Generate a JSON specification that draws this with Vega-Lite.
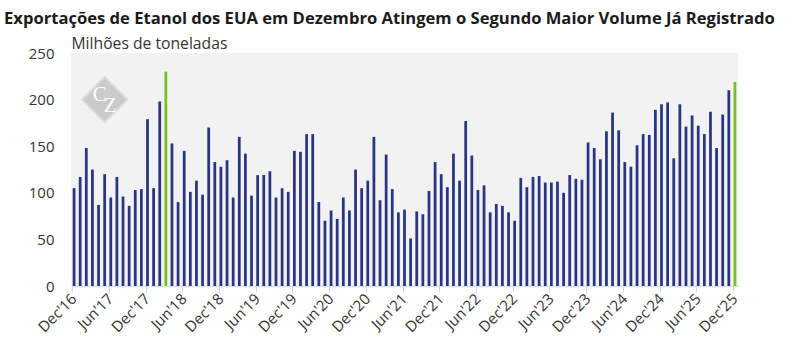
{
  "$schema": "https://vega.github.io/schema/vega-lite/v6.json",
  "width": 667,
  "height": 233,
  "autosize": "none",
  "padding": {"left": 71, "top": 53, "right": 54, "bottom": 78},
  "background": "white",
  "config": {
    "font": "Open Sans",
    "view": {"fill": "#f2f2f2", "stroke": null}
  },
  "title": {
    "text": "Exportações de Etanol dos EUA em Dezembro Atingem o Segundo Maior Volume Já Registrado",
    "anchor": "start",
    "frame": "group",
    "dx": -67,
    "fontSize": 16.6,
    "fontWeight": "bold",
    "color": "#1a1a1a",
    "font": "Open Sans",
    "offset": 7
  },
  "datasets": {
    "exports": [
      {"month": "Dec'16", "value": 105},
      {"month": "Jan'17", "value": 117},
      {"month": "Feb'17", "value": 148},
      {"month": "Mar'17", "value": 125},
      {"month": "Apr'17", "value": 87},
      {"month": "May'17", "value": 120},
      {"month": "Jun'17", "value": 95},
      {"month": "Jul'17", "value": 117},
      {"month": "Aug'17", "value": 96},
      {"month": "Sep'17", "value": 86},
      {"month": "Oct'17", "value": 103},
      {"month": "Nov'17", "value": 104},
      {"month": "Dec'17", "value": 179},
      {"month": "Jan'18", "value": 105},
      {"month": "Feb'18", "value": 198},
      {"month": "Mar'18", "value": 230},
      {"month": "Apr'18", "value": 153},
      {"month": "May'18", "value": 90},
      {"month": "Jun'18", "value": 145},
      {"month": "Jul'18", "value": 101},
      {"month": "Aug'18", "value": 113},
      {"month": "Sep'18", "value": 98},
      {"month": "Oct'18", "value": 170},
      {"month": "Nov'18", "value": 133},
      {"month": "Dec'18", "value": 128},
      {"month": "Jan'19", "value": 135},
      {"month": "Feb'19", "value": 95},
      {"month": "Mar'19", "value": 160},
      {"month": "Apr'19", "value": 142},
      {"month": "May'19", "value": 97},
      {"month": "Jun'19", "value": 119},
      {"month": "Jul'19", "value": 119},
      {"month": "Aug'19", "value": 123},
      {"month": "Sep'19", "value": 95},
      {"month": "Oct'19", "value": 105},
      {"month": "Nov'19", "value": 101},
      {"month": "Dec'19", "value": 145},
      {"month": "Jan'20", "value": 144},
      {"month": "Feb'20", "value": 163},
      {"month": "Mar'20", "value": 163},
      {"month": "Apr'20", "value": 90},
      {"month": "May'20", "value": 70},
      {"month": "Jun'20", "value": 81},
      {"month": "Jul'20", "value": 72},
      {"month": "Aug'20", "value": 95},
      {"month": "Sep'20", "value": 81},
      {"month": "Oct'20", "value": 125},
      {"month": "Nov'20", "value": 105},
      {"month": "Dec'20", "value": 113},
      {"month": "Jan'21", "value": 160},
      {"month": "Feb'21", "value": 92},
      {"month": "Mar'21", "value": 141},
      {"month": "Apr'21", "value": 104},
      {"month": "May'21", "value": 79},
      {"month": "Jun'21", "value": 82},
      {"month": "Jul'21", "value": 51},
      {"month": "Aug'21", "value": 80},
      {"month": "Sep'21", "value": 77},
      {"month": "Oct'21", "value": 102},
      {"month": "Nov'21", "value": 133},
      {"month": "Dec'21", "value": 120},
      {"month": "Jan'22", "value": 106},
      {"month": "Feb'22", "value": 142},
      {"month": "Mar'22", "value": 113},
      {"month": "Apr'22", "value": 177},
      {"month": "May'22", "value": 140},
      {"month": "Jun'22", "value": 103},
      {"month": "Jul'22", "value": 108},
      {"month": "Aug'22", "value": 79},
      {"month": "Sep'22", "value": 88},
      {"month": "Oct'22", "value": 86},
      {"month": "Nov'22", "value": 79},
      {"month": "Dec'22", "value": 70},
      {"month": "Jan'23", "value": 116},
      {"month": "Feb'23", "value": 106},
      {"month": "Mar'23", "value": 117},
      {"month": "Apr'23", "value": 118},
      {"month": "May'23", "value": 111},
      {"month": "Jun'23", "value": 111},
      {"month": "Jul'23", "value": 112},
      {"month": "Aug'23", "value": 100},
      {"month": "Sep'23", "value": 119},
      {"month": "Oct'23", "value": 115},
      {"month": "Nov'23", "value": 114},
      {"month": "Dec'23", "value": 154},
      {"month": "Jan'24", "value": 148},
      {"month": "Feb'24", "value": 136},
      {"month": "Mar'24", "value": 166},
      {"month": "Apr'24", "value": 186},
      {"month": "May'24", "value": 167},
      {"month": "Jun'24", "value": 133},
      {"month": "Jul'24", "value": 128},
      {"month": "Aug'24", "value": 151},
      {"month": "Sep'24", "value": 163},
      {"month": "Oct'24", "value": 162},
      {"month": "Nov'24", "value": 189},
      {"month": "Dec'24", "value": 195},
      {"month": "Jan'25", "value": 197},
      {"month": "Feb'25", "value": 137},
      {"month": "Mar'25", "value": 195},
      {"month": "Apr'25", "value": 171},
      {"month": "May'25", "value": 183},
      {"month": "Jun'25", "value": 172},
      {"month": "Jul'25", "value": 163},
      {"month": "Aug'25", "value": 187},
      {"month": "Sep'25", "value": 148},
      {"month": "Oct'25", "value": 184},
      {"month": "Nov'25", "value": 210},
      {"month": "Dec'25", "value": 219}
    ]
  },
  "layer": [
    {
      "data": {"values": [{"logo": "CZ"}]},
      "mark": {"type": "point", "shape": "diamond", "size": 2050, "filled": true, "color": "#cacaca", "opacity": 1, "stroke": "#dcdcdc", "strokeWidth": 2},
      "encoding": {
        "x": {"datum": "May'17", "type": "nominal", "scale": {"domain": {"data": "exports", "field": "month"}}},
        "y": {"datum": 200, "type": "quantitative"}
      }
    },
    {
      "data": {"values": [{"logo": "C"}]},
      "mark": {"type": "text", "font": "Liberation Serif", "fontSize": 21, "color": "white", "align": "center", "baseline": "middle", "dx": -5, "dy": -5},
      "encoding": {
        "x": {"datum": "May'17", "type": "nominal"},
        "y": {"datum": 200, "type": "quantitative"},
        "text": {"field": "logo"}
      }
    },
    {
      "data": {"values": [{"logo": "Z"}]},
      "mark": {"type": "text", "font": "Liberation Serif", "fontSize": 21, "color": "white", "align": "center", "baseline": "middle", "dx": 5.5, "dy": 6},
      "encoding": {
        "x": {"datum": "May'17", "type": "nominal"},
        "y": {"datum": 200, "type": "quantitative"},
        "text": {"field": "logo"}
      }
    },
    {
      "data": {"name": "exports"},
      "mark": {"type": "bar"},
      "encoding": {
        "x": {
          "field": "month",
          "type": "nominal",
          "sort": null,
          "scale": {"paddingInner": 0.55, "paddingOuter": 0.275},
          "axis": {
            "title": null,
            "values": ["Dec'16","Jun'17","Dec'17","Jun'18","Dec'18","Jun'19","Dec'19","Jun'20","Dec'20","Jun'21","Dec'21","Jun'22","Dec'22","Jun'23","Dec'23","Jun'24","Dec'24","Jun'25","Dec'25"],
            "bandPosition": 0,
            "labelAngle": -45,
            "labelFontSize": 15,
            "labelColor": "#333333",
            "labelFont": "Open Sans",
            "tickColor": "#d6d6d6",
            "tickSize": 6,
            "tickWidth": 1,
            "domainColor": "#dcdcdc",
            "domainWidth": 1.5,
            "labelPadding": 4
          }
        },
        "y": {
          "field": "value",
          "type": "quantitative",
          "scale": {"domain": [0, 250], "nice": false},
          "axis": {
            "title": "Milhões de toneladas",
            "titleAngle": 0,
            "titleAlign": "left",
            "titleBaseline": "alphabetic",
            "titleX": 0,
            "titleY": -5,
            "titleFontSize": 15.7,
            "titleFontWeight": "normal",
            "titleColor": "#333333",
            "titleFont": "Open Sans",
            "values": [0, 50, 100, 150, 200, 250],
            "labelFontSize": 15,
            "labelColor": "#333333",
            "labelFont": "Open Sans",
            "labelPadding": 17,
            "ticks": false,
            "domain": false,
            "gridColor": "white",
            "gridWidth": 1.5
          }
        },
        "color": {
          "condition": {"test": "datum.month === \"Mar'18\" || datum.month === \"Dec'25\"", "value": "#78be20"},
          "value": "#283583"
        }
      }
    }
  ]
}
